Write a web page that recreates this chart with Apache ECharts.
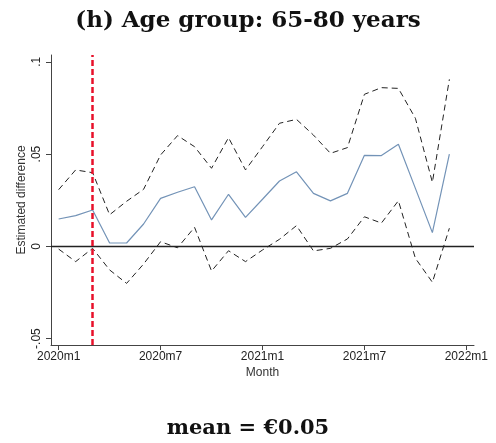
<!DOCTYPE html>
<html><head><meta charset="utf-8">
<script src="https://cdn.jsdelivr.net/npm/echarts@6/dist/echarts.min.js"></script>
<style>html,body{margin:0;padding:0;background:#fff}#c{width:496px;height:443px}</style>
</head><body><div id="c"></div>
<script>
const months = ['2020m1','2020m2','2020m3','2020m4','2020m5','2020m6','2020m7','2020m8','2020m9','2020m10','2020m11','2020m12',
  '2021m1','2021m2','2021m3','2021m4','2021m5','2021m6','2021m7','2021m8','2021m9','2021m10','2021m11','2021m12'];
const estimate = [0.0148,0.0166,0.0197,0.0018,0.0018,0.0121,0.0260,0.0293,0.0323,0.0143,0.0282,0.0157,
  0.0255,0.0354,0.0404,0.0287,0.0246,0.0287,0.0493,0.0492,0.0553,0.0314,0.0074,0.0500];
const upper = [0.0307,0.0414,0.0399,0.0171,0.0244,0.0309,0.0495,0.0600,0.0540,0.0423,0.0589,0.0414,
  0.0540,0.0667,0.0688,0.0603,0.0504,0.0535,0.0824,0.0860,0.0856,0.0694,0.0347,0.0905];
const lower = [-0.0015,-0.0083,-0.0011,-0.0128,-0.0201,-0.0096,0.0025,-0.0008,0.0103,-0.0134,-0.0024,-0.0083,
  -0.0020,0.0038,0.0112,-0.0025,-0.0011,0.0040,0.0160,0.0126,0.0247,-0.0065,-0.0195,0.0098];
const xTickIndex = [0,6,12,18,24];
const xTickLabels = ['2020m1','2020m7','2021m1','2021m7','2022m1'];
const yTicks = [-0.05,0,0.05,0.1];
const yTickLabels = ['-.05','0','.05','.1'];
const eventIndex = 2;
const titleText = '(h) Age group: 65-80 years';
const footText = 'mean = \u20AC0.05';

const pts = arr => arr.map((v,i)=>[i,v]);
const chart = echarts.init(document.getElementById('c'), null, {renderer:'canvas'});
const sans = 'Liberation Sans, Arial, sans-serif';
const serif = 'DejaVu Serif, serif';
chart.setOption({
  animation:false,
  title:[
    {text:titleText,left:'center',top:5,textStyle:{fontFamily:serif,fontWeight:'bold',fontSize:23,color:'#111'}},
    {text:footText,left:'center',top:413,textStyle:{fontFamily:serif,fontWeight:'bold',fontSize:21,color:'#111'}}
  ],
  grid:{left:51,right:22,top:55,bottom:98},
  xAxis:{type:'value',min:-0.45,max:24.45,name:'Month',nameLocation:'middle',nameGap:22,nameMoveOverlap:false,
    nameTextStyle:{fontFamily:sans,fontSize:12,color:'#333'},
    axisLine:{onZero:false,lineStyle:{color:'#444',width:1}},
    axisTick:{customValues:xTickIndex,length:5,lineStyle:{color:'#444'}},
    axisLabel:{customValues:xTickIndex,fontFamily:sans,fontSize:12,color:'#222',margin:6,
      formatter:v=>xTickLabels[xTickIndex.indexOf(Math.round(v))]||''},
    splitLine:{show:false}},
  yAxis:{type:'value',min:-0.0535,max:0.1037,name:'Estimated difference',nameLocation:'middle',nameGap:23,nameMoveOverlap:false,
    nameTextStyle:{fontFamily:sans,fontSize:12,color:'#333'},
    axisLine:{show:true,onZero:false,lineStyle:{color:'#444',width:1}},
    axisTick:{show:true,customValues:yTicks,length:5,lineStyle:{color:'#444'}},
    axisLabel:{customValues:yTicks,rotate:90,fontFamily:sans,fontSize:12,color:'#222',margin:8,
      formatter:v=>{const i=yTicks.findIndex(t=>Math.abs(t-v)<1e-6);return i>=0?yTickLabels[i]:'';}},
    splitLine:{show:false}},
  series:[
    {type:'line',data:pts(upper),symbol:'none',lineStyle:{color:'#222',width:1,type:[6,4]},z:3},
    {type:'line',data:pts(lower),symbol:'none',lineStyle:{color:'#222',width:1,type:[6,4]},z:3},
    {type:'line',data:pts(estimate),symbol:'none',lineStyle:{color:'#7393b7',width:1.2},z:4,
      markLine:{silent:true,symbol:'none',label:{show:false},
        data:[{yAxis:0,lineStyle:{color:'#222',width:1.3,type:'solid'}},
              {xAxis:eventIndex,lineStyle:{color:'#e8102a',width:2.5,type:[6,3]}}]}}
  ]
});
</script></body></html>
